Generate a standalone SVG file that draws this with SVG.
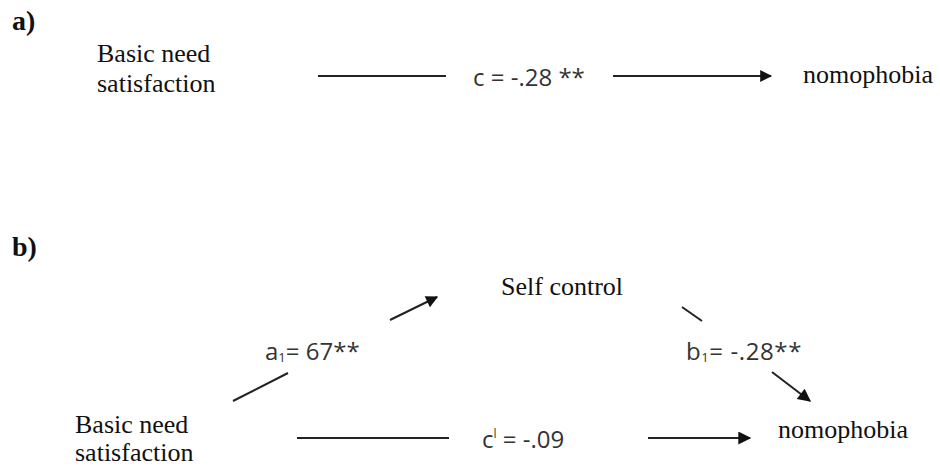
<svg xmlns="http://www.w3.org/2000/svg" width="940" height="468" viewBox="0 0 940 468">
<style>
.serif{font-family:"Liberation Serif","Times New Roman",serif;font-size:26px;fill:#111}
.bold{font-family:"Liberation Serif","Times New Roman",serif;font-size:28px;font-weight:bold;fill:#111}
.sans{font-family:"Open Sans","Liberation Sans",Arial,sans-serif;font-size:24px;fill:#333}
.sub{font-size:13px}
.sup{font-size:12px}
.ln{stroke:#222;stroke-width:2;fill:none}
</style>
<defs>
<marker id="ah" viewBox="0 0 10 10" refX="9" refY="5" markerWidth="15" markerHeight="12" markerUnits="userSpaceOnUse" orient="auto">
<path d="M0,0 L10,5 L0,10 z" fill="#111"/>
</marker>
<marker id="ah2" viewBox="0 0 10 10" refX="9" refY="5" markerWidth="15" markerHeight="13" markerUnits="userSpaceOnUse" orient="auto">
<path d="M0,0 L10,5 L0,10 z" fill="#111"/>
</marker>
</defs>
<text class="bold" x="12" y="30">a)</text>
<text class="bold" x="12" y="256">b)</text>
<g id="a_basic"><text class="serif" x="97" y="62">Basic need</text><text class="serif" x="97" y="92">satisfaction</text></g>
<g id="a_nomo"><text class="serif" x="803" y="83">nomophobia</text></g>
<g id="b_self"><text class="serif" x="501" y="295">Self control</text></g>
<g id="b_basic"><text class="serif" x="75" y="433">Basic need</text><text class="serif" x="75" y="461">satisfaction</text></g>
<g id="b_nomo"><text class="serif" x="778" y="438">nomophobia</text></g>
<g id="connectors">
<line class="ln" x1="318" y1="76" x2="446" y2="76"/>
<line class="ln" x1="613" y1="76" x2="771" y2="76" marker-end="url(#ah)"/>
<text class="sans" x="473" y="86">c = -.28 **</text>
<line class="ln" x1="233" y1="401" x2="288" y2="373"/>
<line class="ln" x1="390" y1="320" x2="437" y2="297" marker-end="url(#ah)"/>
<text class="sans" x="265" y="360">a<tspan class="sub" dy="2">1</tspan><tspan dy="-2">= 67**</tspan></text>
<line class="ln" x1="682" y1="307" x2="702" y2="321"/>
<line class="ln" x1="772" y1="372" x2="810" y2="401" marker-end="url(#ah2)"/>
<text class="sans" x="686" y="360" letter-spacing="0.6">b<tspan class="sub" dy="2">1</tspan><tspan dy="-2">= -.28**</tspan></text>
<line class="ln" x1="297" y1="438" x2="449" y2="438"/>
<line class="ln" x1="648" y1="438" x2="750" y2="438" marker-end="url(#ah2)"/>
<text class="sans" x="482" y="448">c<tspan class="sup" dy="-10">l</tspan><tspan dy="10"> = -.09</tspan></text>
</g>
</svg>
